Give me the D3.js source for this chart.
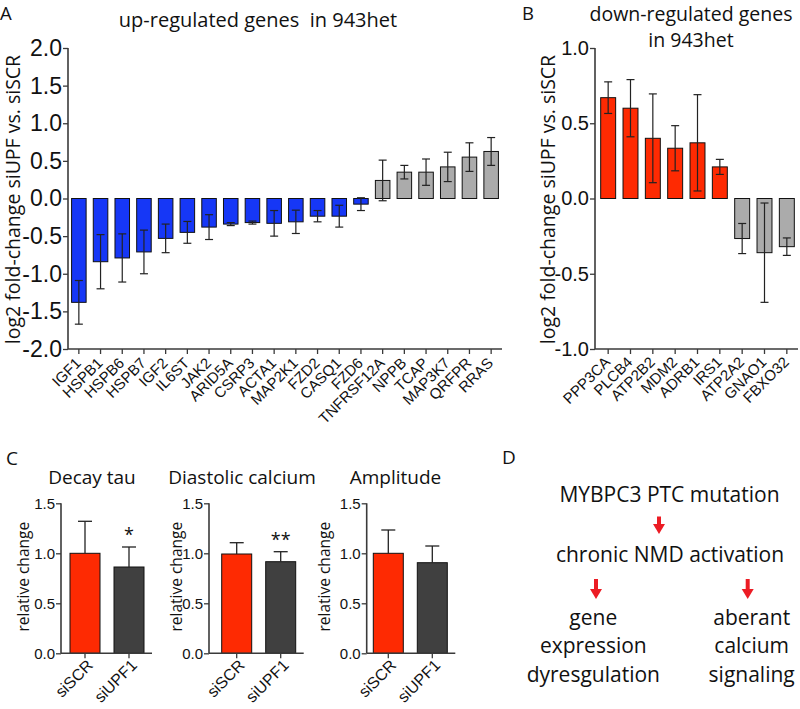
<!DOCTYPE html>
<html><head><meta charset="utf-8">
<script src="https://cdn.jsdelivr.net/npm/d3@7"></script>
<style>body{margin:0;background:#fff}svg{display:block;font-family:'Open Sans',sans-serif}</style>
</head><body>
<svg id="c" width="800" height="709"></svg>
<script>
// ---------- Data ----------
const upGenes = ["IGF1","HSPB1","HSPB6","HSPB7","IGF2","IL6ST","JAK2","ARID5A","CSRP3","ACTA1","MAP2K1","FZD2","CASQ1","FZD6","TNFRSF12A","NPPB","TCAP","MAP3K7","QRFPR","RRAS"];
const upValues = [-1.38,-0.84,-0.79,-0.71,-0.53,-0.45,-0.38,-0.34,-0.32,-0.33,-0.31,-0.235,-0.235,-0.075,0.24,0.35,0.35,0.42,0.55,0.625];
const upErrors = [0.29,0.36,0.32,0.29,0.19,0.145,0.165,0.02,0.02,0.17,0.155,0.075,0.145,0.085,0.27,0.09,0.175,0.195,0.19,0.185];
const upTicks = [2.0,1.5,1.0,0.5,0.0,-0.5,-1.0,-1.5,-2.0];

const downGenes = ["PPP3CA","PLCB4","ATP2B2","MDM2","ADRB1","IRS1","ATP2A2","GNAO1","FBXO32"];
const downValues = [0.67,0.60,0.40,0.334,0.37,0.21,-0.266,-0.36,-0.32];
const downErrors = [0.105,0.19,0.295,0.15,0.32,0.05,0.10,0.33,0.058];
const downTicks = [1.0,0.5,0.0,-0.5,-1.0];

const cTitles = ["Decay tau","Diastolic calcium","Amplitude"];
const cGroups = ["siSCR","siUPF1"];
const cMeans = [[1.0,0.863],[0.993,0.916],[1.0,0.906]];
const cErrors = [[0.32,0.20],[0.113,0.10],[0.233,0.167]];
const cStars = ["*","**",""];
const cTicks = [0.0,0.5,1.0,1.5];

const dTop = "MYBPC3 PTC mutation";
const dMid = "chronic NMD activation";
const dLeft = ["gene","expression","dyresgulation"];
const dRight = ["aberant","calcium","signaling"];

// ---------- Styles ----------
const BLUE="#1637f6", RED="#fe2a02", GRAY="#ababab", DARK="#404040", AX="#3a3a3a", ARROW="#ec1c24";
const svg = d3.select("#c");
const fmt = d => d.toFixed(1);

function panelLabel(t,x,y,size){svg.append("text").attr("x",x).attr("y",y).attr("font-size",size).attr("fill","#111").text(t);}

function styleAxis(g){
  g.selectAll("path.domain").remove();
  g.selectAll(".tick line").attr("stroke",AX).attr("stroke-width",1.3);
  g.selectAll("text").attr("fill","#111");
}

function errorBars(g, data, x, y, capW){
  const eg = g.append("g");
  data.forEach(d=>{
    const cx = x(d.k)+x.bandwidth()/2;
    const y1=y(d.v+d.e), y2=y(d.v-d.e);
    eg.append("line").attr("x1",cx).attr("x2",cx).attr("y1",y1).attr("y2",y2).attr("stroke","#222").attr("stroke-width",1.2);
    [y1,y2].forEach(yy=>eg.append("line").attr("x1",cx-capW/2).attr("x2",cx+capW/2).attr("y1",yy).attr("y2",yy).attr("stroke","#222").attr("stroke-width",1.2));
  });
}

// ---------- Panel A/B generic ----------
function geneChart(opt){
  const g = svg.append("g");
  const x = d3.scaleBand().domain(opt.genes).range([opt.x0,opt.x1]).paddingInner(0.33).paddingOuter(0.165);
  const y = d3.scaleLinear().domain(opt.domain).range([opt.yb,opt.yt]);
  const data = opt.genes.map((k,i)=>({k,v:opt.values[i],e:opt.errors[i],c:opt.colors(i,opt.values[i])}));
  g.selectAll("rect").data(data).join("rect")
    .attr("x",d=>x(d.k)).attr("width",x.bandwidth())
    .attr("y",d=>y(Math.max(0,d.v))).attr("height",d=>Math.abs(y(d.v)-y(0)))
    .attr("fill",d=>d.c).attr("stroke","#111").attr("stroke-width",1);
  errorBars(g,data,x,y,8);
  const ya = g.append("g").attr("transform",`translate(${opt.ax},0)`)
    .call(d3.axisLeft(y).tickValues(opt.ticks).tickFormat(fmt).tickSize(5).tickPadding(1));
  styleAxis(ya);
  ya.selectAll("text").attr("font-size",opt.tickFont);
  const xa = g.append("g").attr("transform",`translate(0,${opt.yb})`)
    .call(d3.axisBottom(x).tickSize(5).tickFormat(""));
  styleAxis(xa);
  xa.selectAll(".tick").append("text")
    .attr("transform",`translate(${opt.lx},${opt.ly}) rotate(-45)`)
    .attr("text-anchor","end").attr("font-size",opt.labFont).attr("fill","#111")
    .text(d=>d);
  g.append("line").attr("x1",opt.ax).attr("x2",opt.ax).attr("y1",opt.yt).attr("y2",opt.yb).attr("stroke",AX).attr("stroke-width",1.6);
  g.append("line").attr("x1",opt.ax).attr("x2",opt.axEnd).attr("y1",opt.yb).attr("y2",opt.yb).attr("stroke",AX).attr("stroke-width",1.6);
  g.append("text").attr("transform",`translate(${opt.ylx},${(opt.yt+opt.yb)/2+1}) rotate(-90)`)
    .attr("text-anchor","middle").attr("font-size",19.5).attr("fill","#111")
    .text("log2 fold-change siUPF vs. siSCR");
}

geneChart({genes:upGenes,values:upValues,errors:upErrors,ticks:upTicks,domain:[-2,2],
  x0:68,x1:502,ax:68,axEnd:502,yb:349,yt:48,tickFont:23,labFont:15,lx:3,ly:15,ylx:19.5,
  colors:(i,v)=>v<0?BLUE:GRAY});
geneChart({genes:downGenes,values:downValues,errors:downErrors,ticks:downTicks,domain:[-1,1],
  x0:597,x1:798,ax:595,axEnd:798,yb:349,yt:48,tickFont:20,labFont:15,lx:3,ly:14,ylx:555,
  colors:(i,v)=>v>0?RED:GRAY});

// titles
svg.append("text").attr("x",258).attr("y",27).attr("text-anchor","middle").attr("font-size",20).attr("fill","#111").attr("xml:space","preserve").text("up-regulated genes  in 943het");
svg.append("text").attr("x",691).attr("y",21).attr("text-anchor","middle").attr("font-size",19.5).attr("fill","#111").text("down-regulated genes");
svg.append("text").attr("x",691).attr("y",47).attr("text-anchor","middle").attr("font-size",19.5).attr("fill","#111").text("in 943het");
panelLabel("A",0,19.5,18.5);
panelLabel("B",522,19.5,18.5);
panelLabel("C",6,465,19);
panelLabel("D",502,464,19);

// ---------- Panel C ----------
const cLayout = [{ax:61,s:70,lab:28.5,tx:92},{ax:209,s:221.7,lab:182,tx:242},{ax:366.7,s:373.3,lab:330,tx:395.5}];
const cy = d3.scaleLinear().domain([0,1.5]).range([653.3,503.3]);
cTitles.forEach((t,ci)=>{
  const L = cLayout[ci];
  const g = svg.append("g");
  const x = d3.scaleBand().domain(cGroups).range([L.s,L.s+74]).paddingInner(14/44).paddingOuter(0);
  const data = cGroups.map((k,i)=>({k,v:cMeans[ci][i],e:cErrors[ci][i]}));
  g.selectAll("rect").data(data).join("rect")
    .attr("x",d=>x(d.k)).attr("width",x.bandwidth())
    .attr("y",d=>cy(d.v)).attr("height",d=>cy(0)-cy(d.v))
    .attr("fill",(d,i)=>i===0?RED:DARK).attr("stroke","#111").attr("stroke-width",1);
  data.forEach(d=>{
    const cx=x(d.k)+x.bandwidth()/2, yt=cy(d.v+d.e);
    g.append("line").attr("x1",cx).attr("x2",cx).attr("y1",yt).attr("y2",cy(d.v)).attr("stroke","#222").attr("stroke-width",1.3);
    g.append("line").attr("x1",cx-7).attr("x2",cx+7).attr("y1",yt).attr("y2",yt).attr("stroke","#222").attr("stroke-width",1.3);
  });
  if(cStars[ci]){
    const sx = x("siUPF1")+x.bandwidth()/2;
    g.append("text").attr("x",sx).attr("y",cy(cMeans[ci][1]+cErrors[ci][1])-6).attr("text-anchor","middle").attr("font-size",18).attr("fill","#111").text(cStars[ci]);
  }
  const ya = g.append("g").attr("transform",`translate(${L.ax},0)`)
    .call(d3.axisLeft(cy).tickValues(cTicks).tickFormat(fmt).tickSize(5).tickPadding(1));
  styleAxis(ya); ya.selectAll("text").attr("font-size",15);
  const xa = g.append("g").attr("transform",`translate(0,${cy(0)})`).call(d3.axisBottom(x).tickSize(5).tickFormat(""));
  styleAxis(xa);
  xa.selectAll(".tick").append("text").attr("transform","translate(9,13) rotate(-45)")
    .attr("text-anchor","end").attr("font-size",16).attr("fill","#111").text(d=>d);
  g.append("line").attr("x1",L.ax).attr("x2",L.ax).attr("y1",cy(1.5)).attr("y2",cy(0)).attr("stroke",AX).attr("stroke-width",1.6);
  g.append("line").attr("x1",L.ax).attr("x2",L.s+82).attr("y1",cy(0)).attr("y2",cy(0)).attr("stroke",AX).attr("stroke-width",1.6);
  g.append("text").attr("transform",`translate(${L.lab},576.7) rotate(-90)`).attr("text-anchor","middle").attr("font-size",15.5).attr("fill","#111").text("relative change");
  g.append("text").attr("x",L.tx).attr("y",484).attr("text-anchor","middle").attr("font-size",19).attr("fill","#111").text(t);
});

// ---------- Panel D ----------
function arrow(x,y1,y2){
  const hh=10, hw=6;
  svg.append("line").attr("x1",x).attr("x2",x).attr("y1",y1).attr("y2",y2-hh+1).attr("stroke",ARROW).attr("stroke-width",4);
  svg.append("path").attr("d",`M${x-hw},${y2-hh}L${x+hw},${y2-hh}L${x},${y2}Z`).attr("fill",ARROW);
}
svg.append("text").attr("x",669.5).attr("y",501.7).attr("text-anchor","middle").attr("font-size",21).attr("fill","#111").text(dTop);
arrow(659,516.5,534);
svg.append("text").attr("x",670).attr("y",561.7).attr("text-anchor","middle").attr("font-size",21).attr("fill","#111").text(dMid);
arrow(596,579,599);
arrow(747.7,579,599);
dLeft.forEach((t,i)=>svg.append("text").attr("x",593.3).attr("y",625+i*28.4).attr("text-anchor","middle").attr("font-size",21).attr("fill","#111").text(t));
dRight.forEach((t,i)=>svg.append("text").attr("x",751.7).attr("y",625+i*28.4).attr("text-anchor","middle").attr("font-size",21).attr("fill","#111").text(t));
</script>
</body></html>
